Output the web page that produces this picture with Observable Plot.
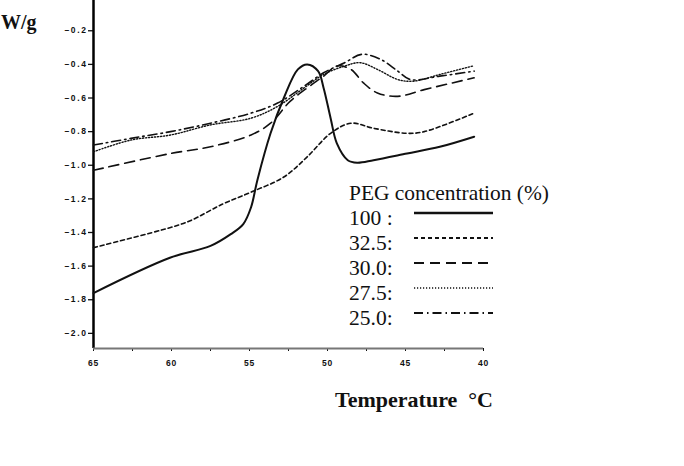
<!DOCTYPE html>
<html>
<head>
<meta charset="utf-8">
<script src="https://cdn.jsdelivr.net/npm/d3@7"></script>
<script src="https://cdn.jsdelivr.net/npm/@observablehq/plot@0.6"></script>
<style>
  body { margin: 0; background: white; }
  #wrap { position: relative; width: 684px; height: 466px; }
  #wrap svg { position: absolute; left: 0; top: 0; }
  g[aria-label="y-axis tick label"] text { letter-spacing: 1.6px; }
  g[aria-label="x-axis tick label"] text { letter-spacing: 0.8px; }
</style>
</head>
<body>
<div id="wrap"></div>
<script>
// ---- data ----
const seriesNames = ["100", "32.5", "30.0", "27.5", "25.0"];

const t100 = [65, 60.1, 57.5, 56.2, 55.4, 54.9, 54.5, 53.65, 52.8, 51.9, 51.3, 50.6, 50.25, 49.8, 49.4, 48.7, 48.1, 47.05, 44.9, 42.8, 40.6];
const w100 = [-1.76, -1.55, -1.48, -1.41, -1.35, -1.25, -1.09, -0.81, -0.60, -0.43, -0.40, -0.44, -0.54, -0.72, -0.87, -0.97, -0.985, -0.97, -0.93, -0.89, -0.83];

const t325 = [65, 60.06, 58.8, 56.7, 54.9, 52.8, 51.3, 49.8, 48.5, 47.05, 44.9, 43.8, 40.6];
const w325 = [-1.49, -1.37, -1.33, -1.23, -1.16, -1.07, -0.95, -0.81, -0.75, -0.78, -0.81, -0.80, -0.69];

const t300 = [65, 60.06, 57.5, 54.9, 53.65, 52.4, 51.3, 50.25, 49.4, 48.5, 47.7, 46.8, 45.5, 43.8, 40.6];
const w300 = [-1.03, -0.93, -0.89, -0.82, -0.75, -0.62, -0.54, -0.47, -0.41, -0.43, -0.51, -0.57, -0.59, -0.55, -0.48];

const t275 = [65, 62.6, 60.06, 57.5, 54.9, 53.2, 51.5, 50.25, 48.9, 47.9, 46.8, 45.5, 44.5, 42.8, 40.7];
const w275 = [-0.92, -0.85, -0.82, -0.76, -0.72, -0.65, -0.54, -0.46, -0.41, -0.39, -0.43, -0.49, -0.50, -0.46, -0.41];

const t250 = [65, 62.6, 60.06, 57.5, 54.9, 53.2, 51.5, 50.25, 48.9, 47.8, 46.6, 45.5, 44.7, 42.8, 40.6];
const w250 = [-0.88, -0.84, -0.80, -0.75, -0.69, -0.63, -0.53, -0.45, -0.39, -0.34, -0.37, -0.44, -0.49, -0.47, -0.44];

const xDomain = [65, 40];
const yDomain = [-2.09, -0.02];
const xTicks = [65, 60, 55, 50, 45, 40];
const xMinorTicks = [62.5, 57.5, 52.5, 47.5, 42.5];
const yTicks = [-0.2, -0.4, -0.6, -0.8, -1.0, -1.2, -1.4, -1.6, -1.8, -2.0];

const yLabel = "W/g";
const xLabel = "Temperature  °C";
const legendTitle = "PEG concentration (%)";
const legendLabels = ["100 :", "32.5:", "30.0:", "27.5:", "25.0:"];

// ---- styles ----
const styles = {
  "100":  {dash: null,          width: 2.0},
  "32.5": {dash: "4,3",         width: 1.6},
  "30.0": {dash: "10,6",        width: 1.6},
  "27.5": {dash: "1.2,1.8",     width: 1.4},
  "25.0": {dash: "9,4,1.5,4",   width: 1.6}
};

const pairs = [[t100, w100], [t325, w325], [t300, w300], [t275, w275], [t250, w250]];
const rows = seriesNames.map((name, i) =>
  pairs[i][0].map((t, j) => ({series: name, t, w: pairs[i][1][j]})));

const lineMarks = rows.map((data, i) => Plot.line(data, {
  x: "t", y: "w", curve: "catmull-rom",
  stroke: "#111",
  strokeWidth: styles[seriesNames[i]].width,
  strokeDasharray: styles[seriesNames[i]].dash
}));

const chart = Plot.plot({
  width: 684, height: 466,
  marginLeft: 93, marginRight: 201, marginTop: 0, marginBottom: 118,
  style: {fontFamily: "Liberation Sans, Arial, sans-serif", fontSize: "8.5px", fontWeight: "bold", background: "white", color: "#111"},
  x: {domain: xDomain},
  y: {domain: yDomain},
  marks: [
    Plot.axisY({ticks: yTicks, tickSize: 5, tickPadding: 1, tickFormat: d => "–" + Math.abs(d).toFixed(1), label: null, strokeWidth: 1.3}),
    Plot.axisX({ticks: xTicks, tickSize: 3, tickPadding: 8, tickFormat: d => String(d), label: null}),
    Plot.axisX({ticks: xMinorTicks, tickSize: 3, tickFormat: () => "", label: null}),
    Plot.ruleX([xDomain[0]], {stroke: "#000", strokeWidth: 2.5}),
    Plot.ruleY([yDomain[0]], {stroke: "#777", strokeWidth: 2}),
    ...lineMarks
  ]
});
document.getElementById("wrap").appendChild(chart);

// ---- overlay: titles and legend ----
const ov = d3.select("#wrap").append("svg")
  .attr("width", 684).attr("height", 466)
  .style("pointer-events", "none");

const serif = "Liberation Serif, Times New Roman, serif";

ov.append("text").attr("x", 1).attr("y", 29)
  .attr("font-family", serif)
  .attr("font-weight", "bold").attr("font-size", 20)
  .attr("fill", "#111").text(yLabel);

ov.append("text").attr("x", 335).attr("y", 407)
  .attr("font-family", serif)
  .attr("font-weight", "bold").attr("font-size", 21)
  .attr("fill", "#111")
  .attr("textLength", 158).attr("lengthAdjust", "spacingAndGlyphs")
  .style("white-space", "pre")
  .text(xLabel);

ov.append("text").attr("x", 349).attr("y", 200)
  .attr("font-family", serif).attr("font-size", 21.5).attr("fill", "#111")
  .attr("textLength", 200).attr("lengthAdjust", "spacingAndGlyphs")
  .text(legendTitle);

legendLabels.forEach((lab, i) => {
  const base = 225 + i * 25;
  ov.append("text").attr("x", 349).attr("y", base)
    .attr("font-family", serif).attr("font-size", 21.5).attr("fill", "#111")
    .text(lab);
  const s = styles[seriesNames[i]];
  ov.append("line")
    .attr("x1", 414).attr("x2", 493)
    .attr("y1", base - 12).attr("y2", base - 12)
    .attr("stroke", "#111").attr("stroke-width", s.width + 0.3)
    .attr("stroke-dasharray", s.dash);
});
</script>
</body>
</html>
